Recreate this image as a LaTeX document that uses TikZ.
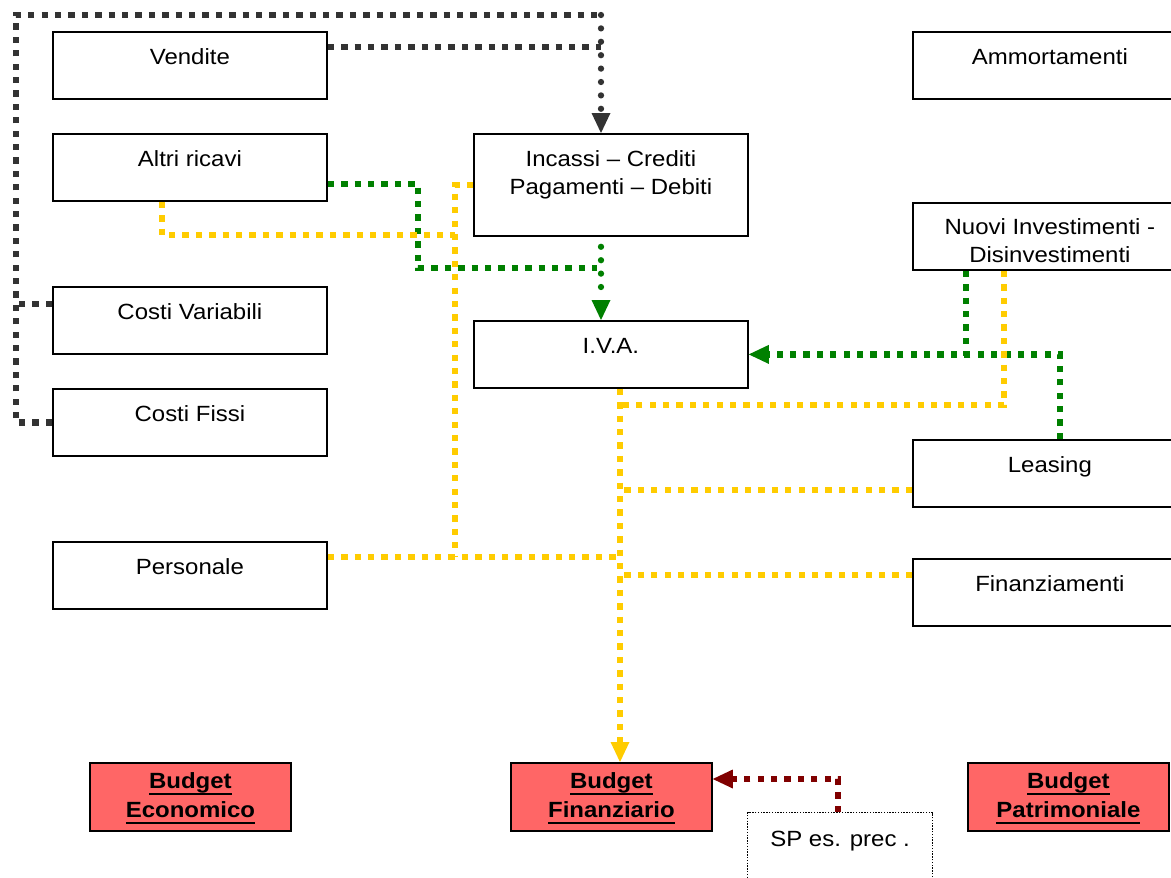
\documentclass[tikz,border=0pt]{standalone}
\usepackage{fontspec}
\setmainfont{Liberation Sans}[FakeStretch=1.09]
\usetikzlibrary{arrows.meta,calc}
\definecolor{cgray}{HTML}{333333}
\definecolor{cgreen}{HTML}{008000}
\definecolor{cyellow}{HTML}{FFCC00}
\definecolor{cdarkred}{HTML}{800000}
\definecolor{cbudget}{HTML}{FF6666}
% underline at a fixed depth below the baseline
\newcommand\ulined[1]{\begingroup\setbox0\hbox{#1}\rlap{\rule[-6.9pt]{\wd0}{2.6pt}}\box0\endgroup}

\begin{document}
\begin{tikzpicture}[x=1pt,y=-1pt,
  box/.style={draw=black, line width=1.8pt, minimum width=274pt, minimum height=67pt,
    anchor=north west, inner sep=0pt},
  lbl/.style={font=\fontsize{22}{28}\selectfont, align=center, inner sep=0pt, anchor=north},
  budget/.style={draw=black, line width=1.8pt, fill=cbudget, minimum width=201pt,
    minimum height=68pt, anchor=north west, inner sep=0pt,
    font=\bfseries\fontsize{22}{29}\selectfont, align=center},
  spbox/.style={draw=black, line width=1.2pt, dash pattern=on 1.4pt off 1.4pt,
    minimum width=185pt, minimum height=140pt, anchor=north west, inner sep=0pt},
  sq/.style={line width=6.3pt, dash pattern=on 6.3pt off 7.1pt},
  rd/.style={line width=6.3pt, line cap=round, dash pattern=on 0pt off 13.4pt},
  tip/.style={-{Triangle[width=19pt,length=20pt,line width=0pt]}},
]
\useasboundingbox (0,0) rectangle (1171,878);
\clip (0,0) rectangle (1171,878);

% ---- left column
\node[box] (vend) at (52,31) {};
\node[lbl] (vendT) at ($(vend.north)+(0,13.4)$) {\strut Vendite};
\node[box] (ar) at (52,133) {};
\node[lbl] (arT) at ($(ar.north)+(0,13.4)$) {\strut Altri ricavi};
\node[box] (cv) at (52,286) {};
\node[lbl] (cvT) at ($(cv.north)+(0,13.4)$) {\strut Costi Variabili};
\node[box] (cf) at (52,388) {};
\node[lbl] (cfT) at ($(cf.north)+(0,13.4)$) {\strut Costi Fissi};
\node[box] (pers) at (52,541) {};
\node[lbl] (persT) at ($(pers.north)+(0,13.4)$) {\strut Personale};

% ---- middle column
\node[box, minimum height=102pt] (inc) at (473,133) {};
\node[lbl] (incT) at ($(inc.north)+(0,13.4)$) {\strut Incassi – Crediti\\Pagamenti – Debiti};
\node[box] (iva) at (473,320) {};
\node[lbl] (ivaT) at ($(iva.north)+(0,13.4)$) {\strut I.V.A.};

% ---- right column
\node[box] (amm) at (912,31) {};
\node[lbl] (ammT) at ($(amm.north)+(0,13.4)$) {\strut Ammortamenti};
\node[box] (ni) at (912,202) {};
\node[lbl] (niT) at ($(ni.north)+(0,12.4)$) {\strut Nuovi Investimenti -\\Disinvestimenti};
\node[box] (le) at (912,439) {};
\node[lbl] (leT) at ($(le.north)+(0,13.4)$) {\strut Leasing};
\node[box] (fin) at (912,558) {};
\node[lbl] (finT) at ($(fin.north)+(0,13.4)$) {\strut Finanziamenti};

% ---- budgets
\node[budget] (be) at (89,762) {\strut\ulined{Budget}\\\strut\ulined{Economico}};
\node[budget] (bf) at (510,762) {\strut\ulined{Budget}\\\strut\ulined{Finanziario}};
\node[budget] (bp) at (967,762) {\strut\ulined{Budget}\\\strut\ulined{Patrimoniale}};
\node[spbox] (sp) at (747,812) {};
\node[lbl] (spT) at ($(sp.north)+(0,14.4)$) {\strut SP es. prec .};

% ---- junction points
\coordinate (gTL) at (16,15);
\coordinate (gTR) at (601,15);
\coordinate (gX) at (601,0);
\coordinate (yX) at (620,0);
\coordinate (yV) at (455,557);

% ---- grey connectors
\draw[cgray, sq] (cf.west) -| (gTL) -- (gTR);
\draw[cgray, sq] ($(cv.north west)+(0,18)$) -- ++(-36,0);
\draw[cgray, sq] ($(vend.north east)+(0,16)$) -- ($(vend.north east -| gTR)+(0,16)$);
\draw[cgray, rd, tip] (gTR) -- (gTR |- inc.north);

% ---- green connectors
\draw[cgreen, sq] ($(ar.north east)+(0,51)$) -| (418,268) -- (597,268);
\draw[cgreen, rd, tip] ($(gX |- inc.south)+(0,10)$) -- (gX |- iva.north);
\draw[cgreen, sq] ($(ni.south west)+(54,0)$) -- ($(ni.south west)+(54,85)$);
\draw[cgreen, sq, tip] ($(le.north west)+(148,0)$) |- (iva.east);

% ---- yellow connectors
\draw[cyellow, sq] ($(ar.south west)+(110,0)$) |- (yV |- 0,235);
\draw[cyellow, sq] (inc.west) -| (yV);
\draw[cyellow, sq] ($(pers.north east)+(0,16)$) -- ($(pers.north east -| yX)+(0,16)$);
\draw[cyellow, sq, tip] (yX |- iva.south) -- (yX |- bf.north);
\draw[cyellow, sq] ($(ni.south west)+(92,0)$) |- (yX |- 0,405);
\draw[cyellow, sq] ($(le.north west)+(0,51)$) -- ($(le.north west -| yX)+(0,51)$);
\draw[cyellow, sq] ($(fin.north west)+(0,17)$) -- ($(fin.north west -| yX)+(0,17)$);

% ---- dark red connector
\draw[cdarkred, sq, tip] ($(sp.north west)+(91,0)$) |- ($(bf.north east)+(0,17)$);
\end{tikzpicture}
\end{document}
